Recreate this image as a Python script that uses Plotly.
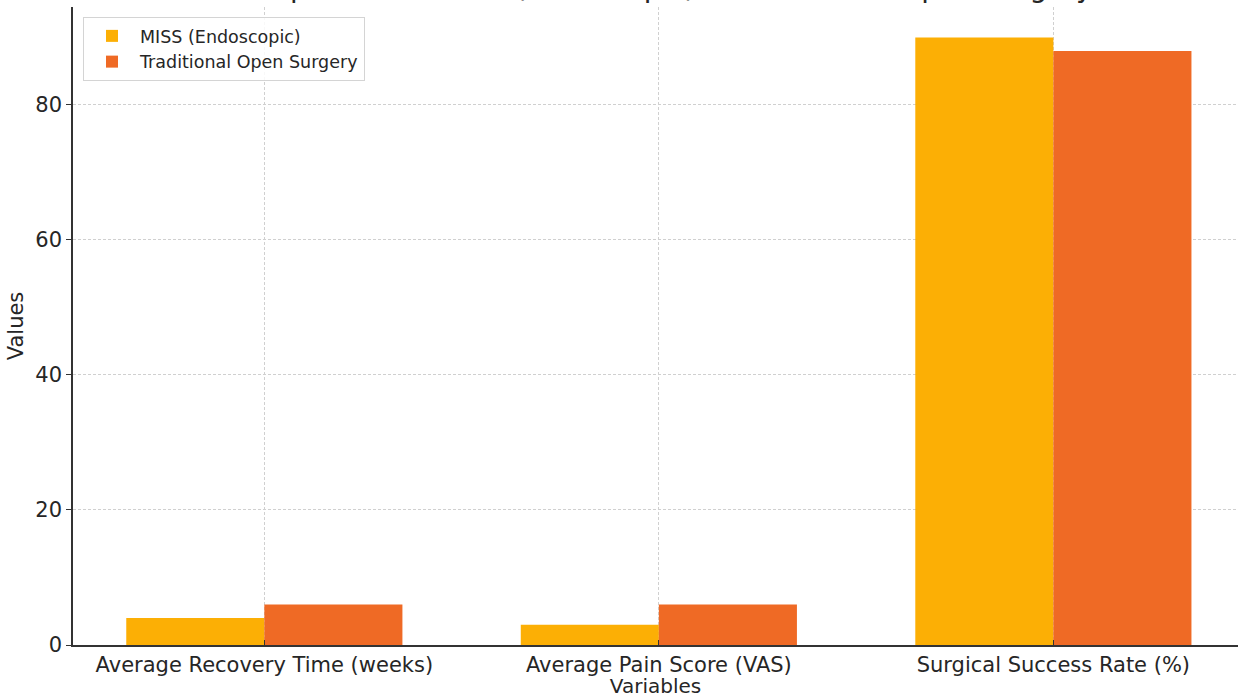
import plotly.graph_objects as go

categories = ["Average Recovery Time (weeks)", "Average Pain Score (VAS)", "Surgical Success Rate (%)"]
miss_values = [4, 3, 90]
open_values = [6, 6, 88]
series_names = ["MISS (Endoscopic)", "Traditional Open Surgery"]
title_text = "Comparison of MISS (Endoscopic) vs Traditional Open Surgery"
y_ticks = [0, 20, 40, 60, 80]

FONT = "DejaVu Sans"
TXT = "#262626"

fig = go.Figure()
fig.add_trace(go.Bar(x=categories, y=miss_values, name=series_names[0],
                     marker=dict(color="#FCAF05", line=dict(width=0))))
fig.add_trace(go.Bar(x=categories, y=open_values, name=series_names[1],
                     marker=dict(color="#EF6A25", line=dict(width=0))))

W, H = 1238, 698
ml, mr, mt, mb = 73, 0, 7, 53
fig.update_layout(
    width=W, height=H,
    margin=dict(l=ml, r=mr, t=mt, b=mb, pad=0),
    paper_bgcolor="white", plot_bgcolor="white",
    barmode="group", bargap=0.3, bargroupgap=0,
    font=dict(family=FONT, size=21, color=TXT),
    showlegend=True,
    legend=dict(x=(83 - ml) / (W - ml - mr), y=1 - (17 - mt) / (H - mt - mb),
                xanchor="left", yanchor="top",
                bgcolor="rgba(255,255,255,0.85)", bordercolor="#d4d4d4", borderwidth=1,
                font=dict(family=FONT, size=17.5, color=TXT),
                tracegroupgap=0, itemwidth=46),
)
fig.update_xaxes(
    type="category", range=[-0.485, 2.468],
    showline=True, linecolor="#333333", linewidth=1.5,
    ticks="inside", ticklen=5, tickcolor="#333333",
    showgrid=True, gridcolor="#d0d0d0", griddash="3px,2px", gridwidth=1,
    tickfont=dict(family=FONT, size=21, color=TXT),
    title=dict(text="Variables", font=dict(family=FONT, size=20, color=TXT), standoff=8),
    zeroline=False,
)
fig.update_yaxes(
    range=[0, 94.5], tickvals=y_ticks,
    showline=True, linecolor="#333333", linewidth=1.5,
    ticks="outside", ticklen=5, tickcolor="#333333",
    showgrid=True, gridcolor="#d0d0d0", griddash="3px,2px", gridwidth=1,
    zeroline=False,
    tickfont=dict(family=FONT, size=21, color=TXT),
    title=dict(text="Values", font=dict(family=FONT, size=21, color=TXT), standoff=6),
)
fig.add_annotation(
    text=title_text, xref="paper", yref="paper",
    x=(660 - ml) / (W - ml - mr), y=1 + 1 / (H - mt - mb),
    xanchor="center", yanchor="bottom", showarrow=False,
    font=dict(family=FONT, size=28, color=TXT),
)
fig.write_html("out.html")
